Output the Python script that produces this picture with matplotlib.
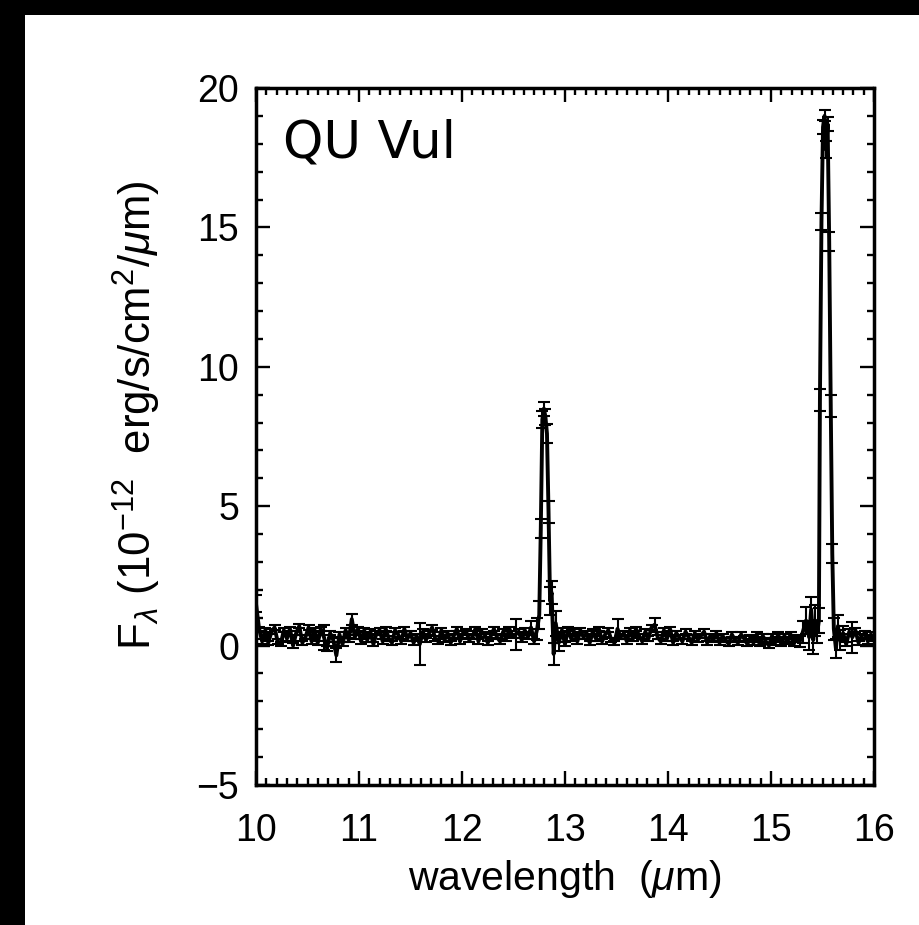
import matplotlib
matplotlib.use("Agg")
import matplotlib.pyplot as plt
from matplotlib.patches import Rectangle
from matplotlib.ticker import MultipleLocator

plt.rcParams['font.family'] = ['Liberation Sans', 'DejaVu Sans']
plt.rcParams['mathtext.fontset'] = 'custom'
plt.rcParams['mathtext.rm'] = 'Liberation Sans'
plt.rcParams['mathtext.it'] = 'Liberation Sans:italic'

# wavelength grid (micron); denser sampling across the two emission lines
wavelength = [
    10.00, 10.03, 10.06, 10.09, 10.12, 10.15, 10.18, 10.21, 10.24, 10.27,
    10.30, 10.33, 10.36, 10.39, 10.42, 10.45, 10.48, 10.51, 10.54, 10.57,
    10.60, 10.63, 10.66, 10.69, 10.72, 10.75, 10.78, 10.81, 10.84, 10.87,
    10.90, 10.93, 10.96, 10.99, 11.02, 11.05, 11.08, 11.11, 11.14, 11.17,
    11.20, 11.23, 11.26, 11.29, 11.32, 11.35, 11.38, 11.41, 11.44, 11.47,
    11.50, 11.53, 11.56, 11.59, 11.62, 11.65, 11.68, 11.71, 11.74, 11.77,
    11.80, 11.83, 11.86, 11.89, 11.92, 11.95, 11.98, 12.01, 12.04, 12.07,
    12.10, 12.13, 12.16, 12.19, 12.22, 12.25, 12.28, 12.31, 12.34, 12.37,
    12.40, 12.43, 12.46, 12.49, 12.52, 12.55, 12.58, 12.61, 12.64, 12.67,
    12.70, 12.73, 12.75, 12.765, 12.78, 12.795, 12.81, 12.825, 12.84, 12.855,
    12.87, 12.89, 12.91, 12.94, 12.97,
    13.00, 13.03, 13.06, 13.09, 13.12, 13.15, 13.18, 13.21, 13.24, 13.27,
    13.30, 13.33, 13.36, 13.39, 13.42, 13.45, 13.48, 13.51, 13.54, 13.57,
    13.60, 13.63, 13.66, 13.69, 13.72, 13.75, 13.78, 13.81, 13.84, 13.87,
    13.90, 13.93, 13.96, 13.99, 14.02, 14.05, 14.08, 14.11, 14.14, 14.17,
    14.20, 14.23, 14.26, 14.29, 14.32, 14.35, 14.38, 14.41, 14.44, 14.47,
    14.50, 14.53, 14.56, 14.59, 14.62, 14.65, 14.68, 14.71, 14.74, 14.77,
    14.80, 14.83, 14.86, 14.89, 14.92, 14.95, 14.98, 15.01, 15.04, 15.07,
    15.10, 15.13, 15.16, 15.19, 15.22, 15.25, 15.28, 15.31, 15.34, 15.37,
    15.39, 15.41, 15.43, 15.45, 15.465, 15.475, 15.49, 15.505, 15.52, 15.535,
    15.55, 15.565, 15.58, 15.595, 15.61, 15.63, 15.65, 15.67,
    15.70, 15.73, 15.76, 15.79, 15.82, 15.85, 15.88, 15.91, 15.94, 15.97,
    16.00,
]

# flux density (1e-12 erg/s/cm2/um)
flux = [
    1.50, 0.60, 0.15, 0.55, 0.10, 0.50, 0.65, 0.15, 0.05, 0.55,
    0.25, 0.60, 0.00, 0.45, 0.70, 0.10, 0.30, 0.65, 0.15, 0.55,
    0.10, 0.60, 0.30, -0.10, 0.45, 0.20, -0.35, 0.40, 0.05, 0.55,
    0.20, 0.95, 0.30, 0.60, 0.15, 0.55, 0.20, 0.50, 0.05, 0.45,
    0.55, 0.15, 0.60, 0.25, 0.10, 0.55, 0.40, 0.15, 0.60, 0.25,
    0.45, 0.10, 0.35, 0.05, 0.50, 0.20, 0.45, 0.65, 0.25, 0.15,
    0.55, 0.20, 0.45, 0.10, 0.35, 0.60, 0.15, 0.45, 0.50, 0.20,
    0.30, 0.60, 0.15, 0.50, 0.40, 0.10, 0.35, 0.60, 0.30, 0.15,
    0.50, 0.25, 0.60, 0.35, 0.40, 0.50, 0.20, 0.55, 0.30, 0.65,
    0.15, 0.60, 1.10, 4.20, 8.10, 8.50, 8.20, 7.60, 4.80, 1.60,
    1.90, -0.30, 0.80, 0.10, 0.55,
    0.05, 0.60, 0.25, 0.50, 0.15, 0.55, 0.30, 0.45, 0.10, 0.50,
    0.25, 0.60, 0.15, 0.40, 0.55, 0.20, 0.10, 0.60, 0.30, 0.45,
    0.15, 0.55, 0.25, 0.60, 0.35, 0.15, 0.50, 0.25, 0.65, 0.75,
    0.30, 0.15, 0.55, 0.25, 0.60, 0.10, 0.45, 0.30, 0.15, 0.50,
    0.30, 0.10, 0.45, 0.20, 0.35, 0.50, 0.10, 0.35, 0.20, 0.45,
    0.10, 0.35, 0.20, 0.05, 0.40, 0.20, 0.10, 0.40, 0.25, 0.05,
    0.30, 0.10, 0.40, 0.05, 0.35, 0.15, 0.00, 0.35, 0.10, 0.40,
    0.05, 0.35, 0.15, 0.40, 0.05, 0.30, 0.15, 0.50, 0.90, 0.30,
    1.30, 0.20, 0.90, 0.50, 0.90, 8.80, 15.20, 18.60, 19.00, 17.80,
    18.70, 14.50, 8.60, 3.30, 0.60, -0.10, 0.70, 0.20,
    0.45, 0.05, 0.50, 0.30, 0.55, 0.10, 0.35, 0.45, 0.15, 0.40,
    0.25,
]

# 1-sigma uncertainties (most hide inside the line width)
flux_err = [
    0.30, 0.08, 0.08, 0.08, 0.08, 0.08, 0.08, 0.08, 0.08, 0.08,
    0.08, 0.08, 0.08, 0.08, 0.08, 0.08, 0.08, 0.08, 0.08, 0.08,
    0.08, 0.08, 0.45, 0.08, 0.08, 0.08, 0.25, 0.08, 0.08, 0.08,
    0.08, 0.20, 0.08, 0.08, 0.08, 0.08, 0.08, 0.08, 0.08, 0.08,
    0.08, 0.08, 0.08, 0.08, 0.08, 0.08, 0.08, 0.08, 0.08, 0.08,
    0.08, 0.08, 0.08, 0.75, 0.08, 0.08, 0.08, 0.08, 0.08, 0.08,
    0.08, 0.08, 0.08, 0.08, 0.08, 0.08, 0.08, 0.08, 0.08, 0.08,
    0.08, 0.08, 0.08, 0.08, 0.08, 0.08, 0.08, 0.08, 0.08, 0.08,
    0.08, 0.08, 0.08, 0.08, 0.55, 0.08, 0.08, 0.08, 0.08, 0.25,
    0.08, 0.40, 0.50, 0.35, 0.30, 0.25, 0.30, 0.35, 0.40, 0.50,
    0.40, 0.40, 0.45, 0.30, 0.08,
    0.08, 0.08, 0.08, 0.08, 0.08, 0.08, 0.08, 0.08, 0.08, 0.08,
    0.08, 0.08, 0.08, 0.08, 0.08, 0.08, 0.08, 0.35, 0.08, 0.08,
    0.08, 0.08, 0.08, 0.08, 0.08, 0.08, 0.08, 0.08, 0.08, 0.25,
    0.08, 0.08, 0.08, 0.08, 0.08, 0.08, 0.08, 0.08, 0.08, 0.08,
    0.08, 0.08, 0.08, 0.08, 0.08, 0.08, 0.08, 0.08, 0.08, 0.08,
    0.08, 0.08, 0.08, 0.08, 0.08, 0.08, 0.08, 0.08, 0.08, 0.08,
    0.08, 0.08, 0.08, 0.08, 0.08, 0.08, 0.08, 0.08, 0.08, 0.08,
    0.08, 0.08, 0.08, 0.08, 0.08, 0.08, 0.20, 0.40, 0.50, 0.45,
    0.45, 0.50, 0.55, 0.40, 0.45, 0.40, 0.30, 0.25, 0.20, 0.30,
    0.25, 0.35, 0.40, 0.35, 0.40, 0.35, 0.40, 0.35,
    0.25, 0.08, 0.08, 0.55, 0.08, 0.08, 0.08, 0.08, 0.08, 0.08,
    0.08,
]

fig = plt.figure(figsize=(9.19, 9.25), dpi=100, facecolor='white')
# black frame strips at the top and left of the scanned figure
fig.add_artist(Rectangle((0, 1 - 15 / 925), 1, 15 / 925, transform=fig.transFigure,
                         facecolor='black', edgecolor='none', zorder=0))
fig.add_artist(Rectangle((0, 0), 25 / 919, 1, transform=fig.transFigure,
                         facecolor='black', edgecolor='none', zorder=0))

ax = fig.add_axes([256 / 919, 140 / 925, 618 / 919, 697 / 925])

ax.errorbar(wavelength, flux, yerr=flux_err, color='black', lw=2.8,
            elinewidth=1.5, capsize=4, capthick=1.5)

ax.set_xlim(10, 16)
ax.set_ylim(-5, 20)
ax.xaxis.set_major_locator(MultipleLocator(1))
ax.xaxis.set_minor_locator(MultipleLocator(0.1))
ax.yaxis.set_major_locator(MultipleLocator(5))
ax.yaxis.set_minor_locator(MultipleLocator(1))
ax.tick_params(which='both', direction='in', top=True, right=True, width=1.7,
               labelsize=27, colors='black')
ax.tick_params(which='major', length=10)
ax.tick_params(which='minor', length=5)
ax.tick_params(axis='x', which='major', pad=20)
ax.tick_params(axis='y', which='major', pad=12)
for s in ax.spines.values():
    s.set_linewidth(2.5)

ax.set_xlabel(r'wavelength  ($\mu$m)', fontsize=29.5)
ax.xaxis.set_label_coords(0.5, -0.105)
ax.set_ylabel(r'F$_\lambda$ (10$^{-12}$  erg/s/cm$^2$/$\mu$m)', fontsize=31.5)
ax.yaxis.set_label_coords(-0.15, 0.53)

ax.text(0.044, 0.8996, 'QU Vul', transform=ax.transAxes, fontsize=37,
        family='DejaVu Sans', va='baseline', ha='left')

fig.savefig('out.png', dpi=100, facecolor='white')
